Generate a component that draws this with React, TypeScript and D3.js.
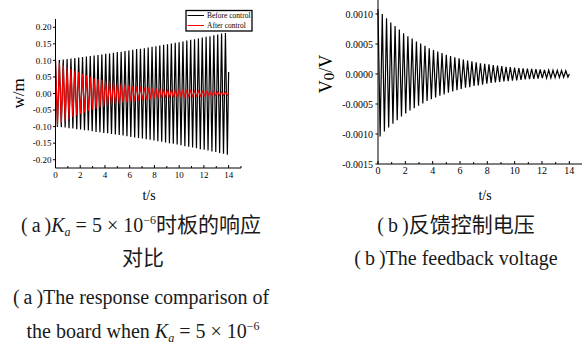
import React from 'react'
import * as d3 from 'd3'

// oscillation: one crest and one trough per cycle
const cyclePeriod = 0.3123 // s, from the bar spacing
const tEnd = 14

// (a) plate displacement w (m)
const beforePeaks = [0.100, 0.101, 0.103, 0.104, 0.106, 0.107, 0.109, 0.110, 0.112, 0.113, 0.115, 0.116, 0.118, 0.120, 0.121, 0.123, 0.125, 0.126, 0.128, 0.130, 0.132, 0.134, 0.135, 0.137, 0.139, 0.141, 0.143, 0.145, 0.147, 0.149, 0.151, 0.153, 0.155, 0.157, 0.160, 0.162, 0.164, 0.166, 0.169, 0.171, 0.173, 0.176, 0.178, 0.181, 0.183]
const beforeTroughs = [-0.101, -0.102, -0.103, -0.105, -0.106, -0.108, -0.109, -0.111, -0.112, -0.114, -0.116, -0.117, -0.119, -0.120, -0.122, -0.124, -0.125, -0.127, -0.129, -0.131, -0.133, -0.134, -0.136, -0.138, -0.140, -0.142, -0.144, -0.146, -0.148, -0.150, -0.152, -0.154, -0.156, -0.159, -0.161, -0.163, -0.165, -0.168, -0.170, -0.172, -0.175, -0.177, -0.180, -0.182, -0.185]
const beforeLast = 0.065
const afterPeaks = [0.100, 0.093, 0.086, 0.080, 0.074, 0.069, 0.064, 0.059, 0.055, 0.051, 0.047, 0.044, 0.041, 0.038, 0.035, 0.033, 0.031, 0.029, 0.027, 0.025, 0.023, 0.022, 0.020, 0.019, 0.018, 0.017, 0.016, 0.015, 0.014, 0.013, 0.012, 0.011, 0.011, 0.010, 0.009, 0.009, 0.008, 0.008, 0.007, 0.007, 0.006, 0.006, 0.006, 0.005, 0.005]
const afterTroughs = [-0.097, -0.090, -0.083, -0.077, -0.072, -0.066, -0.062, -0.057, -0.053, -0.049, -0.046, -0.042, -0.039, -0.036, -0.034, -0.032, -0.030, -0.028, -0.026, -0.024, -0.023, -0.021, -0.020, -0.019, -0.017, -0.016, -0.015, -0.014, -0.013, -0.013, -0.012, -0.011, -0.010, -0.010, -0.009, -0.009, -0.008, -0.008, -0.007, -0.007, -0.006, -0.006, -0.006, -0.005, -0.005]
const afterLast = 0

// (b) feedback voltage, in units of 1e-4 V
const voltUnit = 1e-4
const voltPeaks = [10.8, 10.0, 9.3, 8.6, 8.0, 7.4, 6.8, 6.3, 5.9, 5.4, 5.1, 4.7, 4.3, 4.0, 3.75, 3.5, 3.2, 3.0, 2.8, 2.6, 2.4, 2.25, 2.1, 1.95, 1.8, 1.7, 1.6, 1.5, 1.4, 1.3, 1.2, 1.15, 1.05, 1.0, 0.95, 0.9, 0.85, 0.8, 0.75, 0.7, 0.67, 0.63, 0.6, 0.57, 0.54]
const voltTroughs = [-10.4, -9.6, -8.9, -8.3, -7.7, -7.1, -6.6, -6.1, -5.7, -5.3, -4.9, -4.5, -4.2, -3.9, -3.6, -3.4, -3.1, -2.9, -2.7, -2.5, -2.3, -2.2, -2.0, -1.9, -1.8, -1.6, -1.5, -1.4, -1.3, -1.25, -1.2, -1.1, -1.05, -1.0, -0.9, -0.85, -0.8, -0.75, -0.7, -0.68, -0.65, -0.6, -0.58, -0.55, -0.52]
const voltLast = 0

const tMajor = [0, 2, 4, 6, 8, 10, 12, 14]
const tMinor = [1, 3, 5, 7, 9, 11, 13, 15]
const wTicks = [-0.2, -0.15, -0.1, -0.05, 0, 0.05, 0.1, 0.15, 0.2]
const vTicks = [-0.0015, -0.001, -0.0005, 0, 0.0005, 0.001]
const legendLabels = ['Before control', 'After control']

const serif = "'Liberation Serif', 'Times New Roman', serif"
const capFont = "'Liberation Serif', 'Noto Sans CJK SC', serif"
const ts = '\u2009' // thin space inside the caption brackets

function zigzag(peaks: number[], troughs: number[], last: number, unit = 1) {
  const pts: [number, number][] = []
  peaks.forEach((p, k) => {
    pts.push([k * cyclePeriod, p * unit])
    pts.push([(k + 0.5) * cyclePeriod, troughs[k] * unit])
  })
  pts.push([tEnd, last * unit])
  return pts
}

export default function App() {
  // 左圖 (a)
  const xA = d3.scaleLinear().domain([0, 15]).range([55.5, 241])
  const yA = d3.scaleLinear().domain([-0.225, 0.225]).range([168, 19])
  const lineA = d3.line<[number, number]>().x(d => xA(d[0])).y(d => yA(d[1]))

  // 右圖 (b)
  const xB = d3.scaleLinear().domain([0, 15]).range([378, 583])
  const yB = d3.scaleLinear().domain([-0.0015, 0.00125]).range([164, -1])
  const lineB = d3.line<[number, number]>().x(d => xB(d[0])).y(d => yB(d[1]))

  const before = zigzag(beforePeaks, beforeTroughs, beforeLast)
  const after = zigzag(afterPeaks, afterTroughs, afterLast)
  const volt = zigzag(voltPeaks, voltTroughs, voltLast, voltUnit)

  const xAxis = (x: d3.ScaleLinear<number, number>, y0: number, fs: number) => (
    <g>
      <line x1={x.range()[0]} x2={x.range()[1]} y1={y0} y2={y0} stroke="#000" strokeWidth={1} />
      {tMajor.map(t => (
        <g key={'M' + t}>
          <line x1={x(t)} x2={x(t)} y1={y0} y2={y0 - 3} stroke="#000" />
          <text x={x(t)} y={y0 + 10} fontSize={fs} textAnchor="middle" fontFamily={serif}>{t}</text>
        </g>
      ))}
      {tMinor.map(t => (
        <line key={'m' + t} x1={x(t)} x2={x(t)} y1={y0} y2={y0 - 2} stroke="#000" />
      ))}
    </g>
  )

  return (
    <svg width={582} height={349} style={{ position: 'absolute', left: 0, top: 0, background: '#fff' }}>
      {/* (a) */}
      <path d={lineA(before) ?? ''} fill="none" stroke="#000" strokeWidth={1.2} />
      <path d={lineA(after) ?? ''} fill="none" stroke="#f00" strokeWidth={1.1} />
      <line x1={xA(0)} x2={xA(0)} y1={yA(-0.225)} y2={yA(0.225)} stroke="#000" />
      {wTicks.map(v => (
        <g key={v}>
          <line x1={xA(0) - 2.5} x2={xA(0)} y1={yA(v)} y2={yA(v)} stroke="#000" />
          <text x={xA(0) - 4} y={yA(v) + 3.2} fontSize={9} textAnchor="end" fontFamily={serif}>{v.toFixed(2)}</text>
        </g>
      ))}
      {xAxis(xA, yA(-0.225), 9)}
      <text transform={`translate(24,${yA(0)}) rotate(-90)`} fontSize={17} textAnchor="middle" fontFamily={serif}>w/m</text>
      <text x={149} y={200} fontSize={14} textAnchor="middle" fontFamily={serif}>t/s</text>

      {/* legend */}
      <rect x={186} y={10.5} width={66} height={20.5} fill="#fff" stroke="#000" strokeWidth={1.3} />
      {legendLabels.map((lab, i) => (
        <g key={lab}>
          <line x1={187.5} x2={204} y1={15.5 + i * 10} y2={15.5 + i * 10} stroke={i === 0 ? '#000' : '#f00'} strokeWidth={1} />
          <text x={207} y={18 + i * 10} fontSize={7.5} fontFamily={serif}>{lab}</text>
        </g>
      ))}

      {/* (b) */}
      <path d={lineB(volt) ?? ''} fill="none" stroke="#000" strokeWidth={1.2} />
      <line x1={xB(0)} x2={xB(0)} y1={yB(-0.0015)} y2={0} stroke="#000" />
      {vTicks.map(v => (
        <g key={v}>
          <line x1={xB(0) - 2.5} x2={xB(0)} y1={yB(v)} y2={yB(v)} stroke="#000" />
          <text x={xB(0) - 5} y={yB(v) + 3.5} fontSize={10} textAnchor="end" fontFamily={serif}>{v.toFixed(4)}</text>
        </g>
      ))}
      {xAxis(xB, yB(-0.0015), 10)}
      <text transform={`translate(332,${yB(0)}) rotate(-90)`} fontSize={18} textAnchor="middle" fontFamily={serif}>
        V<tspan fontSize={15} dy={2}>0</tspan><tspan dy={-2}>/V</tspan>
      </text>
      <text x={485} y={200} fontSize={14} textAnchor="middle" fontFamily={serif}>t/s</text>

      {/* captions */}
      <g fontFamily={capFont} fontSize={20} fill="#1a1a1a">
        <text x={141} y={232} textAnchor="middle">
          {`(${ts}a${ts})`}<tspan fontStyle="italic">K</tspan><tspan fontStyle="italic" fontSize={12} dy={4}>a</tspan>
          <tspan dy={-4}> = 5 × 10</tspan><tspan fontSize={12} dy={-8}>−6</tspan><tspan dy={8} fontSize={21}>时板的响应</tspan>
        </text>
        <text x={143} y={265} textAnchor="middle" fontSize={21}>对比</text>
        <text x={141} y={304} textAnchor="middle">{`(${ts}a${ts})The response comparison of`}</text>
        <text x={143} y={338} textAnchor="middle">
          the board when <tspan fontStyle="italic">K</tspan><tspan fontStyle="italic" fontSize={12} dy={4}>a</tspan>
          <tspan dy={-4}> = 5 × 10</tspan><tspan fontSize={12} dy={-8}>−6</tspan>
        </text>
        <text x={456} y={232} textAnchor="middle">{`(${ts}b${ts})`}<tspan fontSize={21}>反馈控制电压</tspan></text>
        <text x={456} y={265} textAnchor="middle">{`(${ts}b${ts})The feedback voltage`}</text>
      </g>
    </svg>
  )
}
